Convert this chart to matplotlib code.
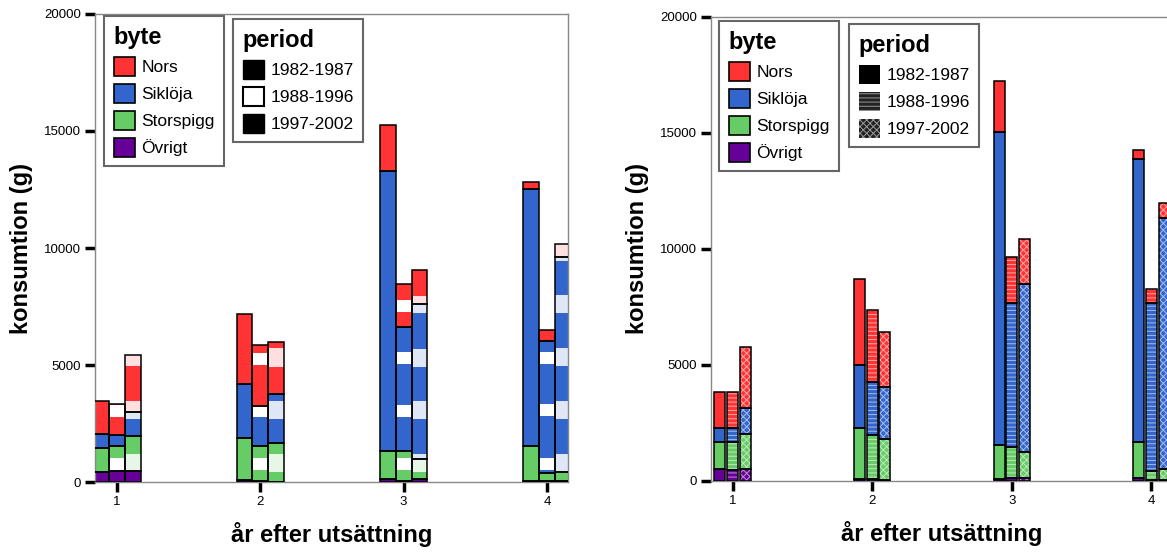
import numpy as np
import matplotlib
matplotlib.use('Agg')
import matplotlib.pyplot as plt
from matplotlib.patches import Patch
from matplotlib.legend import Legend

plt.rcParams['font.family'] = ['Liberation Sans', 'DejaVu Sans']
plt.rcParams['hatch.linewidth'] = 0.7

ar = [1, 2, 3, 4]
perioder = ['1982-1987', '1988-1996', '1997-2002']
byten = ['Nors', 'Siklöja', 'Storspigg', 'Övrigt']
farger = ['#ff3333', '#3366cc', '#66cc66', '#660099']

# vänster figur: en rad per period, en kolumn per år efter utsättning (g)
v_nors = [[1438, 2991, 1953, 285], [1324, 2593, 1824, 470], [2451, 2236, 1440, 542]]
v_sikloja = [[570, 2293, 11964, 10983], [456, 1709, 5299, 5643], [1011, 2080, 6637, 9216]]
v_storspigg = [[1054, 1825, 1211, 1493], [1069, 1503, 1260, 320], [1496, 1661, 855, 363]]
v_ovrigt = [[413, 70, 128, 60], [484, 50, 65, 50], [484, 20, 128, 50]]

# höger figur
h_nors = [[1527, 3694, 2228, 364], [1527, 3136, 2013, 631], [2646, 2374, 1930, 635]]
h_sikloja = [[631, 2718, 13493, 12239], [631, 2287, 6214, 7237], [1123, 2229, 7277, 10858]]
h_storspigg = [[1165, 2218, 1457, 1540], [1195, 1888, 1311, 379], [1523, 1780, 1095, 452]]
h_ovrigt = [[492, 70, 70, 117], [462, 70, 130, 40], [492, 20, 130, 40]]

fig = plt.figure(figsize=(11.67, 5.59), dpi=100)
ax1 = fig.add_axes([0.0814, 0.1377, 0.4053, 0.8373])
ax2 = fig.add_axes([0.6093, 0.1400, 0.3950, 0.8296])


# vita ränder för vänster figur (SPSS-mönstret)
def rander(start, hojd, alfa):
    r = np.arange(468)
    bild = np.zeros((468, 1, 4))
    bild[..., :3] = 1.0
    bild[((r - start) % 52.5) < hojd, 0, 3] = alfa
    return bild


rand_1988 = rander(12, 12, 1.0)
rand_1997 = rander(10, 18, 0.85)


def fyll_vanster(ax, p, x, h, botten, bredd, farg):
    staplar = ax.bar(x, h, bredd, bottom=botten, color=farg, linewidth=0, zorder=1)
    if p == 0:
        return
    bild = rand_1988 if p == 1 else rand_1997
    for s in staplar:
        im = ax.imshow(bild, extent=(0, 1, 0, 1), transform=ax.transAxes, aspect='auto',
                       interpolation='nearest', origin='lower', zorder=2)
        im.set_clip_path(s)


def fyll_hoger(ax, p, x, h, botten, bredd, farg):
    with plt.rc_context({'hatch.color': '#ffffff90'}):
        ax.bar(x, h, bredd, bottom=botten, color=farg, linewidth=0,
               hatch=[None, '----', 'xxxxx'][p], zorder=1)


def rita(ax, lager, bredd, steg, fyll):
    for p in range(3):
        x = np.array(ar) + (p - 1) * steg
        botten = np.zeros(4)
        for varden, farg in lager:
            h = np.array(varden[p], dtype=float)
            fyll(ax, p, x, h, botten, bredd, farg)
            ax.bar(x, h, bredd, bottom=botten, fill=False, edgecolor='black',
                   linewidth=1.1, zorder=3)
            botten += h


rita(ax1, [(v_ovrigt, farger[3]), (v_storspigg, farger[2]), (v_sikloja, farger[1]), (v_nors, farger[0])],
     0.11, 0.11, fyll_vanster)
rita(ax2, [(h_ovrigt, farger[3]), (h_storspigg, farger[2]), (h_sikloja, farger[1]), (h_nors, farger[0])],
     0.08, 0.091, fyll_hoger)

for ax in (ax1, ax2):
    ax.set_xlim(0.846, 4.147)
    ax.set_ylim(0, 20000)
    ax.set_xticks(ar)
    ax.set_yticks([0, 5000, 10000, 15000, 20000])
    ax.tick_params(direction='out', length=7, width=2.5, color='black', labelsize=9.5, pad=3)
    for sp in ax.spines.values():
        sp.set_color('#888888')
        sp.set_linewidth(1.0)
    ax.set_xlabel('år efter utsättning', fontsize=17, fontweight='bold', labelpad=10)
    ax.set_ylabel('konsumtion (g)', fontsize=17, fontweight='bold', labelpad=8)

byte_handtag = [Patch(facecolor=f, edgecolor='black', linewidth=1.2) for f in farger]

v_period = [Patch(facecolor='black', edgecolor='black'),
            Patch(facecolor='white', edgecolor='black', linewidth=1.5),
            Patch(facecolor='black', edgecolor='black')]
with plt.rc_context({'hatch.color': '#999999'}):
    h_period = [Patch(facecolor='black'),
                Patch(facecolor='#222222', hatch='----'),
                Patch(facecolor='#222222', hatch='xxxxx')]


def forklaring(ax, handtag, etiketter, titel, pos):
    leg = Legend(ax, handtag, etiketter, title=titel, loc='upper left', bbox_to_anchor=pos,
                 bbox_transform=fig.transFigure, borderaxespad=0, fontsize=12.5,
                 title_fontproperties={'weight': 'bold', 'size': 17}, alignment='left',
                 frameon=True, fancybox=False, edgecolor='#666666', framealpha=1,
                 handlelength=1.25, handleheight=1.25, handletextpad=0.35,
                 labelspacing=0.5, borderpad=0.55)
    leg.get_frame().set_linewidth(1.5)
    ax.add_artist(leg)


forklaring(ax1, byte_handtag, byten, 'byte', (0.0891, 0.9714))
forklaring(ax1, v_period, perioder, 'period', (0.1997, 0.9660))
forklaring(ax2, byte_handtag, byten, 'byte', (0.6161, 0.9624))
forklaring(ax2, h_period, perioder, 'period', (0.7275, 0.9570))

fig.savefig('out.png', dpi=100)
